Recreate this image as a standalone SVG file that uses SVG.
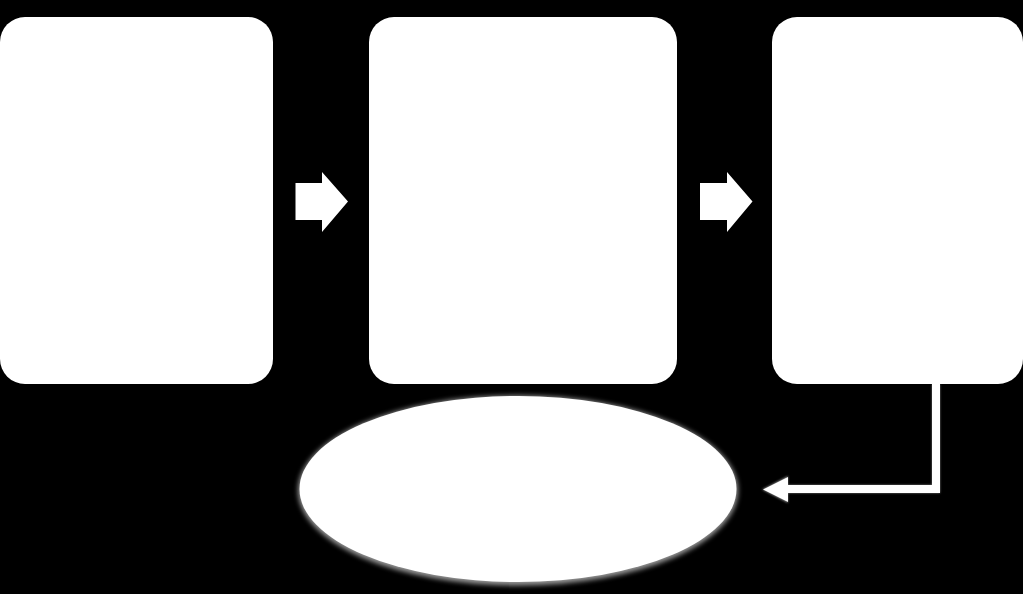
<svg xmlns="http://www.w3.org/2000/svg" width="1023" height="594" viewBox="0 0 1023 594">
  <defs>
    <style>
      .box { fill: #ffffff; }
      .blk { fill: #ffffff; }
      .conn { fill: none; stroke: #ffffff; stroke-width: 8; stroke-linejoin: miter; }
    </style>
    <filter id="soft" x="-10%" y="-10%" width="120%" height="130%">
      <feGaussianBlur stdDeviation="2.5"/>
    </filter>
    <filter id="glow" x="-10%" y="-10%" width="120%" height="120%">
      <feGaussianBlur stdDeviation="1.2"/>
    </filter>
    <marker id="ah" markerWidth="4" markerHeight="4" refX="0" refY="2" orient="auto" markerUnits="userSpaceOnUse" viewBox="0 0 4 4">
      <path d="M0,0 L4,2 L0,4 Z" fill="#ffffff"/>
    </marker>
  </defs>
  <rect width="1023" height="594" fill="#000000"/>

  <g id="node-box1">
    <rect class="box" x="0" y="17" width="273" height="367" rx="25" ry="25"/>
  </g>
  <g id="node-box2">
    <rect class="box" x="369" y="17" width="308" height="367" rx="25" ry="25"/>
  </g>
  <g id="node-box3">
    <rect class="box" x="772" y="17" width="251" height="367" rx="25" ry="25"/>
  </g>
  <g id="node-ellipse">
    <ellipse cx="518" cy="490.5" rx="220" ry="95" fill="#ffffff" opacity="0.6" filter="url(#soft)"/>
    <ellipse cx="518" cy="489" rx="218.5" ry="93" fill="#ffffff"/>
  </g>

  <g id="connectors">
    <polygon class="blk" points="295.5,183 322,183 322,172 348,201.5 322,232 322,220 295.5,220"/>
    <polygon class="blk" points="700,183 727,183 727,172 752.5,201.5 727,232 727,220 700,220"/>
    <g filter="url(#glow)" opacity="0.5">
      <path class="conn" d="M936,384 V489 H787"/>
      <polygon fill="#ffffff" points="788,476 788,503 762,489.5"/>
    </g>
    <path class="conn" d="M936,384 V489 H787"/>
    <polygon fill="#ffffff" points="788,477 788,502 763,489.5"/>
  </g>
</svg>
